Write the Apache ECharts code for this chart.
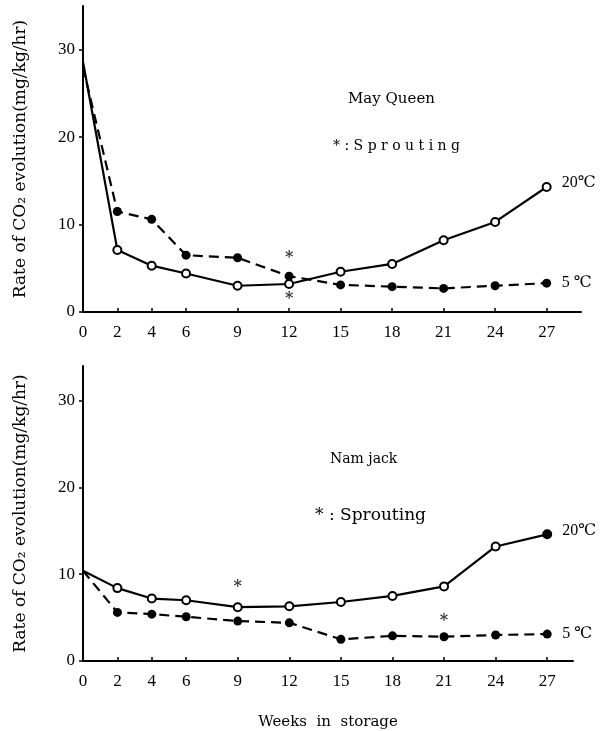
<!DOCTYPE html>
<html>
<head>
<meta charset="utf-8">
<script src="https://cdn.jsdelivr.net/npm/echarts@6/dist/echarts.min.js"></script>
<style>
html,body{margin:0;padding:0;background:#fff;}
#chart{width:607px;height:731px;}
</style>
</head>
<body>
<div id="chart"></div>
<script type="text/javascript">
// weeks in storage
var weeks = [0, 2, 4, 6, 9, 12, 15, 18, 21, 24, 27];
var weekTicks = [0, 2, 4, 6, 9, 12, 15, 18, 21, 24, 27];

// May Queen
var mq20 = [28.6, 7.1, 5.3, 4.4, 3.0, 3.2, 4.6, 5.5, 8.2, 10.3, 14.3];
var mq5  = [28.0, 11.5, 10.6, 6.5, 6.2, 4.1, 3.1, 2.9, 2.7, 3.0, 3.3];
var mqSprout = [[12, 6.2], [12, 1.5]];

// Namjack
var nj20 = [10.4, 8.4, 7.2, 7.0, 6.2, 6.3, 6.8, 7.5, 8.6, 13.2, 14.6];
var nj5  = [10.4, 5.6, 5.4, 5.1, 4.6, 4.4, 2.5, 2.9, 2.8, 3.0, 3.1];
var njSprout = [[9, 8.5], [21, 4.6]];

var FONT = '"DejaVu Serif","Liberation Serif","Noto Sans CJK SC",serif';
var NUMFONT = '"Liberation Serif","DejaVu Serif",serif';

function pts(vals, open, filledIdx){
	return vals.map(function(v, i){
		var d = {value: [weeks[i], v]};
		if(i === 0) d.symbol = 'none';
		if(open && filledIdx === i) d.itemStyle = {color: '#000'};
		return d;
	});
}

function lineSeries(idx, vals, open, label, filledIdx){
	return {
		type: 'line',
		xAxisIndex: idx, yAxisIndex: idx,
		data: pts(vals, open, filledIdx),
		symbol: 'circle',
		symbolSize: open ? 8 : 9,
		showAllSymbol: true,
		itemStyle: open ? {color: '#fff', borderColor: '#000', borderWidth: 2} : {color: '#000', borderColor: '#000', borderWidth: 0},
		lineStyle: {color: '#000', width: 2.2, type: open ? 'solid' : [10, 6]},
		endLabel: {
			show: true,
			formatter: label,
			color: '#000',
			fontFamily: NUMFONT,
			fontSize: 16,
			distance: 15,
			offset: [0, open ? -4 : 0]
		},
		z: open ? 3 : 2,
		animation: false
	};
}

function sproutSeries(idx, data){
	return {
		type: 'scatter',
		xAxisIndex: idx, yAxisIndex: idx,
		data: data,
		symbolSize: 1,
		itemStyle: {color: 'rgba(0,0,0,0)'},
		label: {show: true, position: 'inside', formatter: '*', color: '#000', fontSize: 16, fontFamily: FONT, fontWeight: 'bold'},
		animation: false
	};
}

function xAxis(idx, max, showName){
	return {
		type: 'value', gridIndex: idx, min: 0, max: max,
		axisLine: {show: true, onZero: false, lineStyle: {color: '#000', width: 2}},
		axisTick: {show: true, inside: true, length: 4, customValues: weekTicks, lineStyle: {color: '#000', width: 1.5}},
		axisLabel: {customValues: weekTicks, color: '#000', fontFamily: NUMFONT, fontSize: 17, margin: 12},
		splitLine: {show: false},
		name: showName ? 'Weeks  in  storage' : '',
		nameLocation: 'middle', nameGap: 54,
		nameTextStyle: {color: '#000', fontFamily: FONT, fontSize: 15}
	};
}

function yAxis(idx, max){
	return {
		type: 'value', gridIndex: idx, min: 0, max: max, interval: 10,
		axisLine: {show: true, onZero: false, lineStyle: {color: '#000', width: 2}},
		axisTick: {show: true, inside: false, length: 4, lineStyle: {color: '#000', width: 1.5}},
		axisLabel: {color: '#000', fontFamily: NUMFONT, fontSize: 17, margin: 8, showMaxLabel: false},
		splitLine: {show: false},
		name: 'Rate of CO\u2082 evolution(mg/kg/hr)',
		nameLocation: 'middle', nameGap: 54,
		nameTextStyle: {color: '#000', fontFamily: FONT, fontSize: 17}
	};
}

var chart = echarts.init(document.getElementById('chart'), null, {renderer: 'canvas'});

var option = {
	backgroundColor: '#fff',
	animation: false,
	grid: [
		{left: 83, top: 6, width: 498, height: 306},
		{left: 83, top: 366, width: 490, height: 296}
	],
	xAxis: [xAxis(0, 29, false), xAxis(1, 28.5, true)],
	yAxis: [yAxis(0, 35), yAxis(1, 34)],
	graphic: [
		{type: 'text', left: 348, top: 92, style: {text: 'May Queen', fill: '#000', font: '15px ' + FONT}},
		{type: 'text', left: 333, top: 139, style: {text: '* : S p r o u t i n g', fill: '#000', font: '14px ' + FONT}},
		{type: 'text', left: 330, top: 452, style: {text: 'Nam jack', fill: '#000', font: '14px ' + FONT}},
		{type: 'text', left: 315, top: 507, style: {text: '* : Sprouting', fill: '#000', font: '17px ' + FONT}}
	],
	series: [
		lineSeries(0, mq20, true, '20\u2103'),
		lineSeries(0, mq5, false, '5 \u2103'),
		sproutSeries(0, mqSprout),
		lineSeries(1, nj20, true, '20\u2103', 10),
		lineSeries(1, nj5, false, '5 \u2103'),
		sproutSeries(1, njSprout)
	]
};
chart.setOption(option);
</script>
</body>
</html>
